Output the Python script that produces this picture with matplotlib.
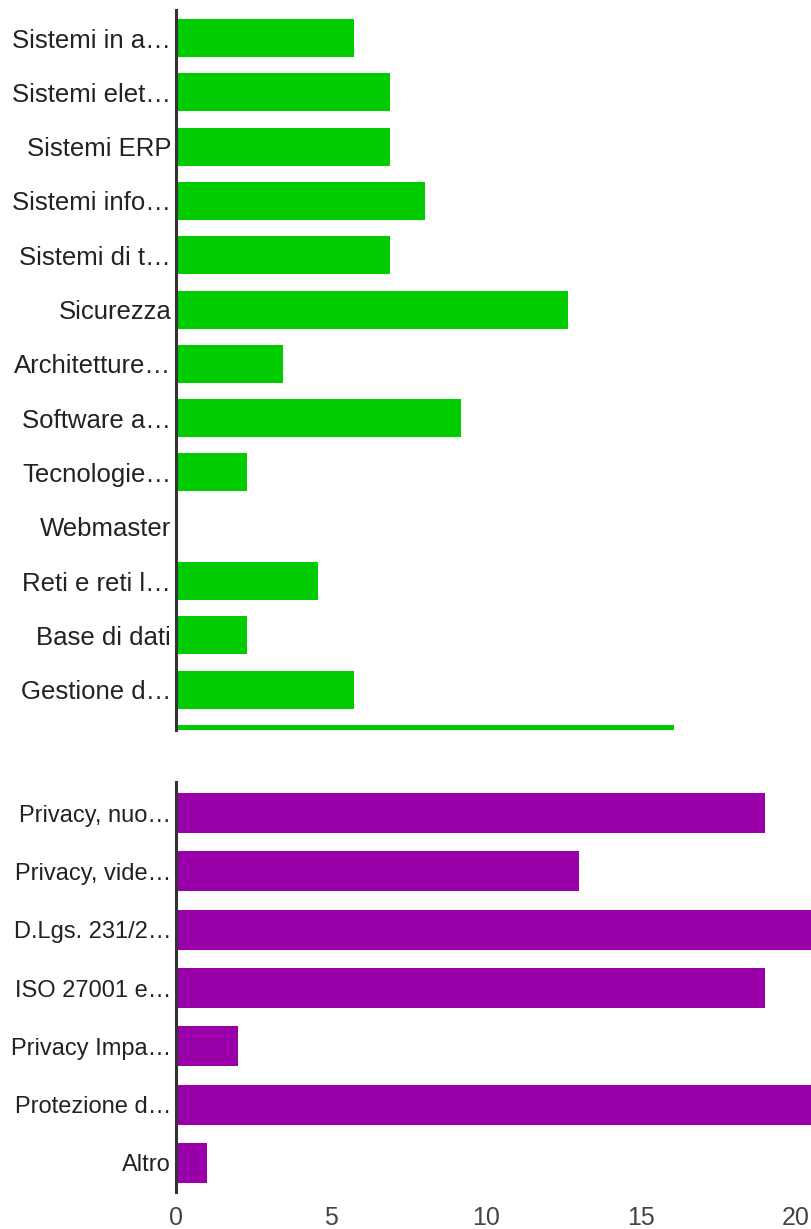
import numpy as np
import matplotlib.pyplot as plt

plt.rcParams['font.family'] = ['Liberation Sans', 'DejaVu Sans']

# top panel (green)
top_labels = ['Sistemi in a…', 'Sistemi elet…', 'Sistemi ERP', 'Sistemi info…',
              'Sistemi di t…', 'Sicurezza', 'Architetture…', 'Software a…',
              'Tecnologie…', 'Webmaster', 'Reti e reti l…', 'Base di dati',
              'Gestione d…']
top_values = [5, 6, 6, 7, 6, 11, 3, 8, 2, 0, 4, 2, 5]
# next bar is cut off by the panel edge, its label is not visible
top_cut_value = 14

# bottom panel (purple)
bottom_labels = ['Privacy, nuo…', 'Privacy, vide…', 'D.Lgs. 231/2…', 'ISO 27001 e…',
                 'Privacy Impa…', 'Protezione d…', 'Altro']
bottom_values = [19, 13, 21, 19, 2, 21, 1]
bottom_ticks = [0, 5, 10, 15, 20]

W, H = 812, 1229
fig = plt.figure(figsize=(W / 100, H / 100), dpi=100)

def add_axes(x0, y0, x1, y1):
    return fig.add_axes([x0 / W, 1 - y1 / H, (x1 - x0) / W, (y1 - y0) / H])

def style(ax):
    for s in ['top', 'right', 'bottom']:
        ax.spines[s].set_visible(False)
    ax.spines['left'].set_color('#333333')
    ax.spines['left'].set_linewidth(2.2)
    ax.tick_params(axis='y', length=0, pad=3.5)

# top chart
ax1 = add_axes(176, 10, W, 730)
y1 = np.arange(len(top_labels))
ax1.barh(y1, top_values, height=0.7, color='#00cc00')
ax1.barh([len(top_labels)], [top_cut_value], height=0.7, color='#00cc00')
ax1.set_yticks(y1)
ax1.set_yticklabels(top_labels, fontsize=18.5, color='#222222')
ax1.set_xticks([])
ax1.set_xlim(0, 636 / 35.6)
ax1.set_ylim(13 - 14 / 54.3, -28 / 54.3)
style(ax1)

# bottom chart
ax2 = add_axes(176, 782, W, 1192)
y2 = np.arange(len(bottom_labels))
ax2.barh(y2, bottom_values, height=0.69, color='#9900aa')
ax2.set_yticks(y2)
ax2.set_yticklabels(bottom_labels, fontsize=17, color='#222222')
ax2.set_xticks(bottom_ticks)
ax2.set_xticklabels([str(t) for t in bottom_ticks], fontsize=18, color='#444444')
ax2.tick_params(axis='x', length=0, pad=10)
ax2.set_xlim(0, 636 / 31.0)
ax2.set_ylim(6 + 29 / 58.3, -31 / 58.3)
style(ax2)

fig.savefig('out.png', dpi=100)
